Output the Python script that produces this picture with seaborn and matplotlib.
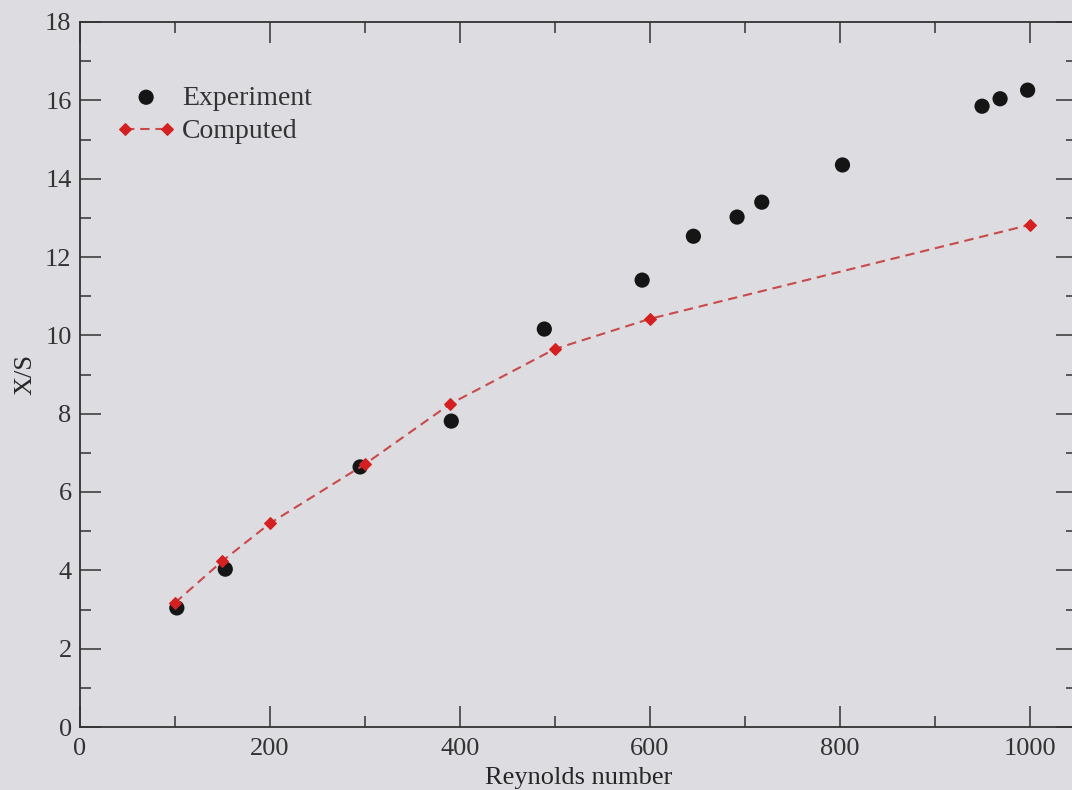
import numpy as np
import pandas as pd
import matplotlib
matplotlib.use("Agg")
import matplotlib.pyplot as plt
from matplotlib.ticker import MultipleLocator
import seaborn as sns

# Experiment data
exp_re = [102, 153, 295, 391, 489, 592, 646, 692, 718, 803, 950, 969, 998]
exp_xs = [3.04, 4.03, 6.64, 7.81, 10.16, 11.41, 12.53, 13.02, 13.40, 14.35, 15.85, 16.04, 16.26]

# Computed data
comp_re = [100, 150, 200, 300, 390, 500, 600, 1000]
comp_xs = [3.17, 4.24, 5.20, 6.71, 8.25, 9.65, 10.42, 12.82]

bg = "#dddce1"

sns.set_theme(style="ticks")
plt.rcParams["font.family"] = ["Liberation Serif", "DejaVu Serif"]
plt.rcParams["axes.linewidth"] = 1.3
plt.rcParams["text.color"] = "#333333"

fig = plt.figure(figsize=(10.72, 7.9), dpi=100, facecolor=bg)
ax = fig.add_axes([80 / 1072, 63 / 790, 997 / 1072, 705 / 790])
ax.set_facecolor(bg)

df_exp = pd.DataFrame({"Re": exp_re, "XS": exp_xs})
df_comp = pd.DataFrame({"Re": comp_re, "XS": comp_xs})

sns.lineplot(data=df_comp, x="Re", y="XS", ax=ax, color="#c84a4a",
             linestyle=(0, (4.5, 2.8)), linewidth=1.5, marker="D",
             markersize=6.5, markerfacecolor="#d42020",
             markeredgecolor="#d42020", label="Computed", zorder=3)
sns.scatterplot(data=df_exp, x="Re", y="XS", ax=ax, color="#151515",
                s=120, edgecolor="none", label="Experiment", zorder=2)

ax.set_xlim(0, 1050)
ax.set_ylim(0, 18)
ax.xaxis.set_major_locator(MultipleLocator(200))
ax.xaxis.set_minor_locator(MultipleLocator(100))
ax.yaxis.set_major_locator(MultipleLocator(2))
ax.yaxis.set_minor_locator(MultipleLocator(1))

for sp in ax.spines.values():
    sp.set_visible(True)
    sp.set_color("#333333")

ax.tick_params(which="both", direction="in", top=True, right=True,
               colors="#333333", labelsize=19)
ax.tick_params(which="major", length=15, width=1.1)
ax.tick_params(which="minor", length=8, width=1.1)
ax.tick_params(axis="x", pad=8)
ax.tick_params(axis="y", pad=6)

ax.set_xlabel("Reynolds number", fontsize=19, labelpad=5)
ax.set_ylabel("X/S", fontsize=19, labelpad=6)

h, l = ax.get_legend_handles_labels()
order = [l.index("Experiment"), l.index("Computed")]
ax.legend([h[i] for i in order], [l[i] for i in order], frameon=False,
          loc="upper left", bbox_to_anchor=(0.012, 0.946), fontsize=20,
          numpoints=2, scatterpoints=1, handlelength=2.1,
          handletextpad=0.25, labelspacing=0.3)

fig.savefig("out.png", dpi=100, facecolor=bg)
